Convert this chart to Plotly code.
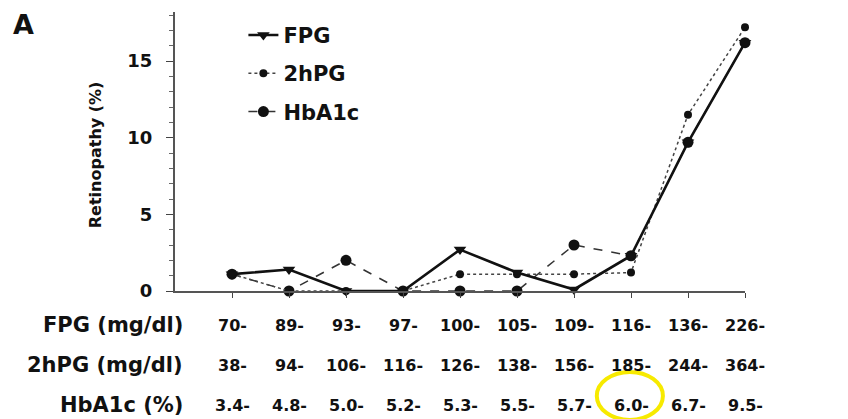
import plotly.graph_objects as go

# ---- data ----
categories = list(range(10))
fpg_labels = ["70-", "89-", "93-", "97-", "100-", "105-", "109-", "116-", "136-", "226-"]
hpg_labels = ["38-", "94-", "106-", "116-", "126-", "138-", "156-", "185-", "244-", "364-"]
hba_labels = ["3.4-", "4.8-", "5.0-", "5.2-", "5.3-", "5.5-", "5.7-", "6.0-", "6.7-", "9.5-"]

fpg_values = [1.1, 1.4, 0.0, 0.0, 2.7, 1.2, 0.1, 2.3, 9.7, 16.2]
hpg_values = [1.1, 0.0, 0.0, 0.0, 1.1, 1.1, 1.1, 1.2, 11.5, 17.2]
hba_values = [1.1, 0.0, 2.0, 0.0, 0.0, 0.0, 3.0, 2.3, 9.7, 16.2]

row_titles = ["FPG (mg/dl)", "2hPG (mg/dl)", "HbA1c (%)"]
y_ticks = [0, 5, 10, 15]

FONT = "DejaVu Sans"
INK = "#111111"


def bfont(size):
    return dict(family=FONT, size=size, color=INK, weight="bold")


fig = go.Figure()
fig.add_trace(go.Scatter(
    x=categories, y=hba_values, name="HbA1c", legendgroup="c", legendrank=3,
    mode="lines+markers", cliponaxis=False,
    line=dict(color="#333333", width=1.5, dash="dash"),
    marker=dict(symbol="circle", size=11, color=INK),
))
fig.add_trace(go.Scatter(
    x=categories, y=hpg_values, name="2hPG", legendgroup="b", legendrank=2,
    mode="lines+markers", cliponaxis=False,
    line=dict(color="#444444", width=1.5, dash="dot"),
    marker=dict(symbol="circle", size=8, color=INK),
))
fig.add_trace(go.Scatter(
    x=categories, y=fpg_values, name="FPG", legendgroup="a", legendrank=1,
    mode="lines+markers", cliponaxis=False,
    line=dict(color=INK, width=2.6),
    marker=dict(symbol="triangle-down", size=11, color=INK),
))

# plot area (page pixels): x 175..745, y 12..291 ; body margin of 8px compensated
annotations = []
for labels, py, title in zip([fpg_labels, hpg_labels, hba_labels],
                             [325, 365, 405], row_titles):
    yp = (291 - py) / 279
    annotations.append(dict(x=0.0175, y=yp, xref="paper", yref="paper",
                            text=title, showarrow=False,
                            xanchor="right", yanchor="middle", font=bfont(21)))
    for c, lab in zip(categories, labels):
        annotations.append(dict(x=c, y=yp, xref="x", yref="paper",
                                text=lab, showarrow=False,
                                xanchor="center", yanchor="middle", font=bfont(16)))

annotations.append(dict(x=(12 - 175) / 570, y=(291 - 8) / 279, xref="paper", yref="paper",
                        text="A", showarrow=False, xanchor="left", yanchor="top",
                        borderpad=0, font=bfont(27)))

annotations.append(dict(x=-0.14, y=(291 - 155) / 279, xref="paper", yref="paper",
                        text="Retinopathy (%)", textangle=-90, showarrow=False,
                        xanchor="center", yanchor="middle", font=bfont(16)))

fig.update_layout(
    width=840, height=411,
    margin=dict(l=167, r=103, t=4, b=128),
    paper_bgcolor="white", plot_bgcolor="white",
    showlegend=True,
    legend=dict(x=0.12, y=0.99, xanchor="left", yanchor="top",
                bgcolor="rgba(0,0,0,0)", tracegroupgap=8, itemwidth=30,
                font=bfont(21)),
    annotations=annotations,
    shapes=[dict(type="circle", xref="x", yref="paper",
                 x0=6.40, x1=7.56, y0=-0.462, y1=-0.290,
                 line=dict(color="#F7EA00", width=4))],
    xaxis=dict(range=[-1, 9], tickvals=categories, showticklabels=False,
               ticks="outside", ticklen=5, tickcolor="#444444",
               showline=True, linecolor="#555555", linewidth=2,
               showgrid=False, zeroline=False),
    yaxis=dict(range=[0, 18.2], tickvals=y_ticks,
               ticks="outside", ticklen=7, tickcolor="#444444",
               ticklabelstandoff=10,
               minor=dict(dtick=1, ticks="outside", ticklen=4, tickcolor="#666666"),
               showline=True, linecolor="#555555", linewidth=2,
               showgrid=False, zeroline=False,
               tickfont=bfont(18)),
)

fig.write_html("out.html")
